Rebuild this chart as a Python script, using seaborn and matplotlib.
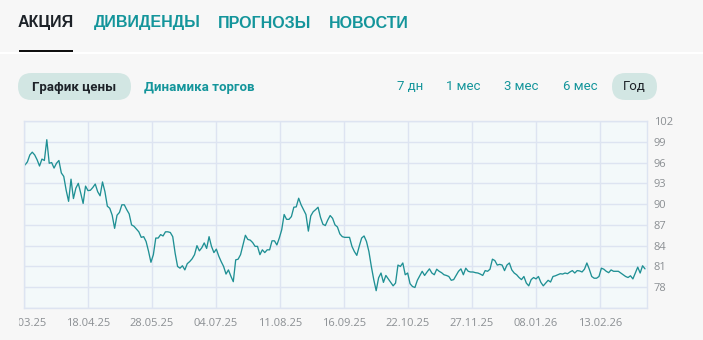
import numpy as np
import pandas as pd
import matplotlib
matplotlib.use("Agg")
import matplotlib.pyplot as plt
from matplotlib.patches import FancyBboxPatch, Rectangle
from matplotlib.transforms import IdentityTransform, Bbox, TransformedBbox
import seaborn as sns

# ---------------- data ----------------
tabs = ["АКЦИЯ", "ДИВИДЕНДЫ", "ПРОГНОЗЫ", "НОВОСТИ"]
chart_modes = ["График цены", "Динамика торгов"]
periods = ["7 дн", "1 мес", "3 мес", "6 мес", "Год"]
x_tick_labels = ["14.03.25", "18.04.25", "28.05.25", "04.07.25", "11.08.25",
                 "16.09.25", "22.10.25", "27.11.25", "08.01.26", "13.02.26"]
y_ticks = [78, 81, 84, 87, 90, 93, 96, 99, 102]

price = [
    95.65, 96.1, 97.1, 97.5, 97.1, 96.4, 95.5, 96.5, 96.3, 99.3,
    95.9, 96.0, 95.2, 95.9, 96.3, 94.5, 94.0, 92.0, 90.4, 93.6,
    90.8, 92.3, 93.0, 91.6, 90.1, 92.6, 91.95, 92.0, 92.4, 92.9,
    91.8, 91.2, 93.2, 91.8, 89.7, 89.4, 88.4, 86.5, 88.4, 88.8,
    89.9, 89.9, 89.2, 88.6, 87.0, 86.8, 86.4, 86.0, 85.2, 85.3,
    84.6, 83.2, 81.6, 82.7, 85.1, 85.1, 85.6, 85.4, 86.0, 86.0,
    85.9, 85.3, 82.9, 81.0, 80.75, 81.1, 80.5, 81.4, 81.7, 82.1,
    82.7, 84.0, 83.25, 83.7, 84.4, 83.6, 85.3, 83.9, 83.0, 83.5,
    82.5, 81.7, 81.0, 79.9, 80.5, 79.6, 78.8, 81.95, 82.05, 82.7,
    84.1, 85.5, 84.9, 84.8, 84.45, 83.9, 83.9, 82.7, 83.4, 83.0,
    83.4, 83.4, 84.7, 84.7, 84.1, 85.1, 86.3, 88.5, 87.8, 87.8,
    88.2, 89.55, 89.6, 90.85, 89.9, 89.2, 88.5, 86.1, 88.3, 88.9,
    89.2, 89.55, 88.1, 87.1, 86.9, 87.7, 88.35, 87.95, 87.0, 86.7,
    85.7, 85.3, 85.2, 85.2,
    85.2, 83.9, 83.15, 82.6, 83.9, 85.1, 85.4, 84.6, 83.15, 81.0,
    79.1, 77.5, 79.35, 80.05, 78.7, 79.7, 79.2, 78.7, 78.2, 78.6,
    81.2, 81.0, 81.5, 79.8, 80.05, 78.5, 78.1, 77.96, 79.0, 79.65,
    80.3, 79.7, 80.2, 80.65, 80.05, 79.8, 80.6, 80.3, 80.1, 79.8,
    79.7, 79.55, 79.0, 79.1, 79.7, 80.3, 80.65, 79.8, 80.75, 80.3,
    80.2, 80.2, 80.1, 80.05, 79.9, 79.7, 80.4, 80.3, 80.6, 82.05,
    81.85, 81.2, 81.3, 81.2, 80.4, 81.2, 81.5, 80.5, 80.05, 79.8,
    79.4, 79.1, 79.55, 78.6, 78.2, 79.1, 79.4, 79.2, 79.55, 78.7,
    78.2, 78.6, 79.0, 78.75, 79.55, 79.65, 79.8, 79.95, 79.9, 80.05,
    79.95, 80.2, 80.4, 80.05, 80.4, 80.35, 80.2, 80.6, 81.5, 80.6,
    79.55, 79.3, 79.3, 79.55, 80.75, 80.6, 80.3, 80.1, 80.5, 80.3,
    80.3, 80.3, 80.05, 79.8, 79.55, 79.4, 79.65, 79.2, 80.05, 80.9,
    80.05, 81.1, 80.65,
]

# ---------------- style ----------------
W, H = 703, 340
BG = "#f7f7f7"
PLOT_BG = "#f3f9fa"
GRID = "#dde4f1"
TEAL = "#14959b"
LINE = "#1f9094"
DARK = "#1d2228"
GRAY = "#8b8f93"
PILL = "#d2e6e3"

sns.set_theme(style="white")
plt.rcParams["font.family"] = ["Open Sans", "DejaVu Sans"]

fig = plt.figure(figsize=(W / 100, H / 100), dpi=100, facecolor=BG)


def fx(px):
    return px / W


def fy(py):
    return 1 - py / H


# plot area in pixels
L, R, T, B = 24, 647, 121, 308
ax = fig.add_axes([fx(L), fy(B), (R - L) / W, (B - T) / H])
ax.set_facecolor(PLOT_BG)

n = len(price)
df = pd.DataFrame({"idx": np.arange(n), "price": price})
sns.lineplot(data=df, x="idx", y="price", ax=ax, color=LINE, linewidth=0.95)

# x scale: line spans px 25..645, ticks every 64 px starting at px 24
ppi = (645 - 25) / (n - 1)
ax.set_xlim((L - 25) / ppi, (n - 1) + (R - 645) / ppi)
xt = [(L - 25 + 64 * k) / ppi for k in range(len(x_tick_labels))]
ax.set_xticks(xt)
ax.set_xticklabels(x_tick_labels)
ax.set_ylim(75, 102)
ax.set_yticks([75] + y_ticks)
ax.set_yticklabels([""] + [str(v) for v in y_ticks])
ax.yaxis.tick_right()
ax.set_xlabel("")
ax.set_ylabel("")
ax.grid(True, color=GRID, linewidth=1.0)
ax.set_axisbelow(True)
for s in ax.spines.values():
    s.set_color(GRID)
    s.set_linewidth(1.0)
ax.tick_params(axis="both", length=0, colors=GRAY, labelsize=8)
ax.tick_params(axis="x", pad=7.5)
ax.tick_params(axis="y", pad=5)

# clip first x label as in the reference
first = ax.xaxis.get_major_ticks()[0].label1
first.set_clip_on(True)
first.set_clip_box(TransformedBbox(Bbox([[18.5, 0], [W, H]]), IdentityTransform()))

# ---------------- header tabs ----------------
tab_x = [18, 94, 218, 329]
for i, (t, x) in enumerate(zip(tabs, tab_x)):
    fig.text(fx(x), fy(23), t, ha="left", va="center", fontsize=11.5,
             fontweight="bold", color=DARK if i == 0 else TEAL,
             family=["Liberation Sans", "DejaVu Sans"])
fig.add_artist(Rectangle((19, H - 52), 54, 2.5, transform=IdentityTransform(),
                         facecolor="#111111", edgecolor="none"))
fig.add_artist(Rectangle((0, H - 53.5), 703, 1.2, transform=IdentityTransform(),
                         facecolor="#ffffff", edgecolor="none"))

# ---------------- pills ----------------
def pill(x0, x1, y0, y1):
    h = y1 - y0
    p = FancyBboxPatch((x0 + h / 2, H - y1 + h / 2), (x1 - x0) - h, 0,
                       boxstyle=f"round,pad={h / 2}",
                       transform=IdentityTransform(),
                       facecolor=PILL, edgecolor="none")
    fig.add_artist(p)


pill(18, 131, 73, 100)
pill(612, 657, 73, 100)
fig.text(fx(74.5), fy(87), chart_modes[0], ha="center", va="center",
         fontsize=9.5, fontweight="bold", color=DARK, family=["Roboto", "DejaVu Sans"])
fig.text(fx(144), fy(87), chart_modes[1], ha="left", va="center",
         fontsize=9.5, fontweight="bold", color=TEAL, family=["Roboto", "DejaVu Sans"])
period_cx = [410.5, 463.5, 521, 580.5, 634.5]
for i, (p, cx) in enumerate(zip(periods, period_cx)):
    fig.text(fx(cx), fy(87), p, ha="center", va="center", fontsize=9.5,
             color=DARK if i == len(periods) - 1 else TEAL,
             family=["Roboto", "DejaVu Sans"])

fig.savefig("out.png", dpi=100, facecolor=BG)
